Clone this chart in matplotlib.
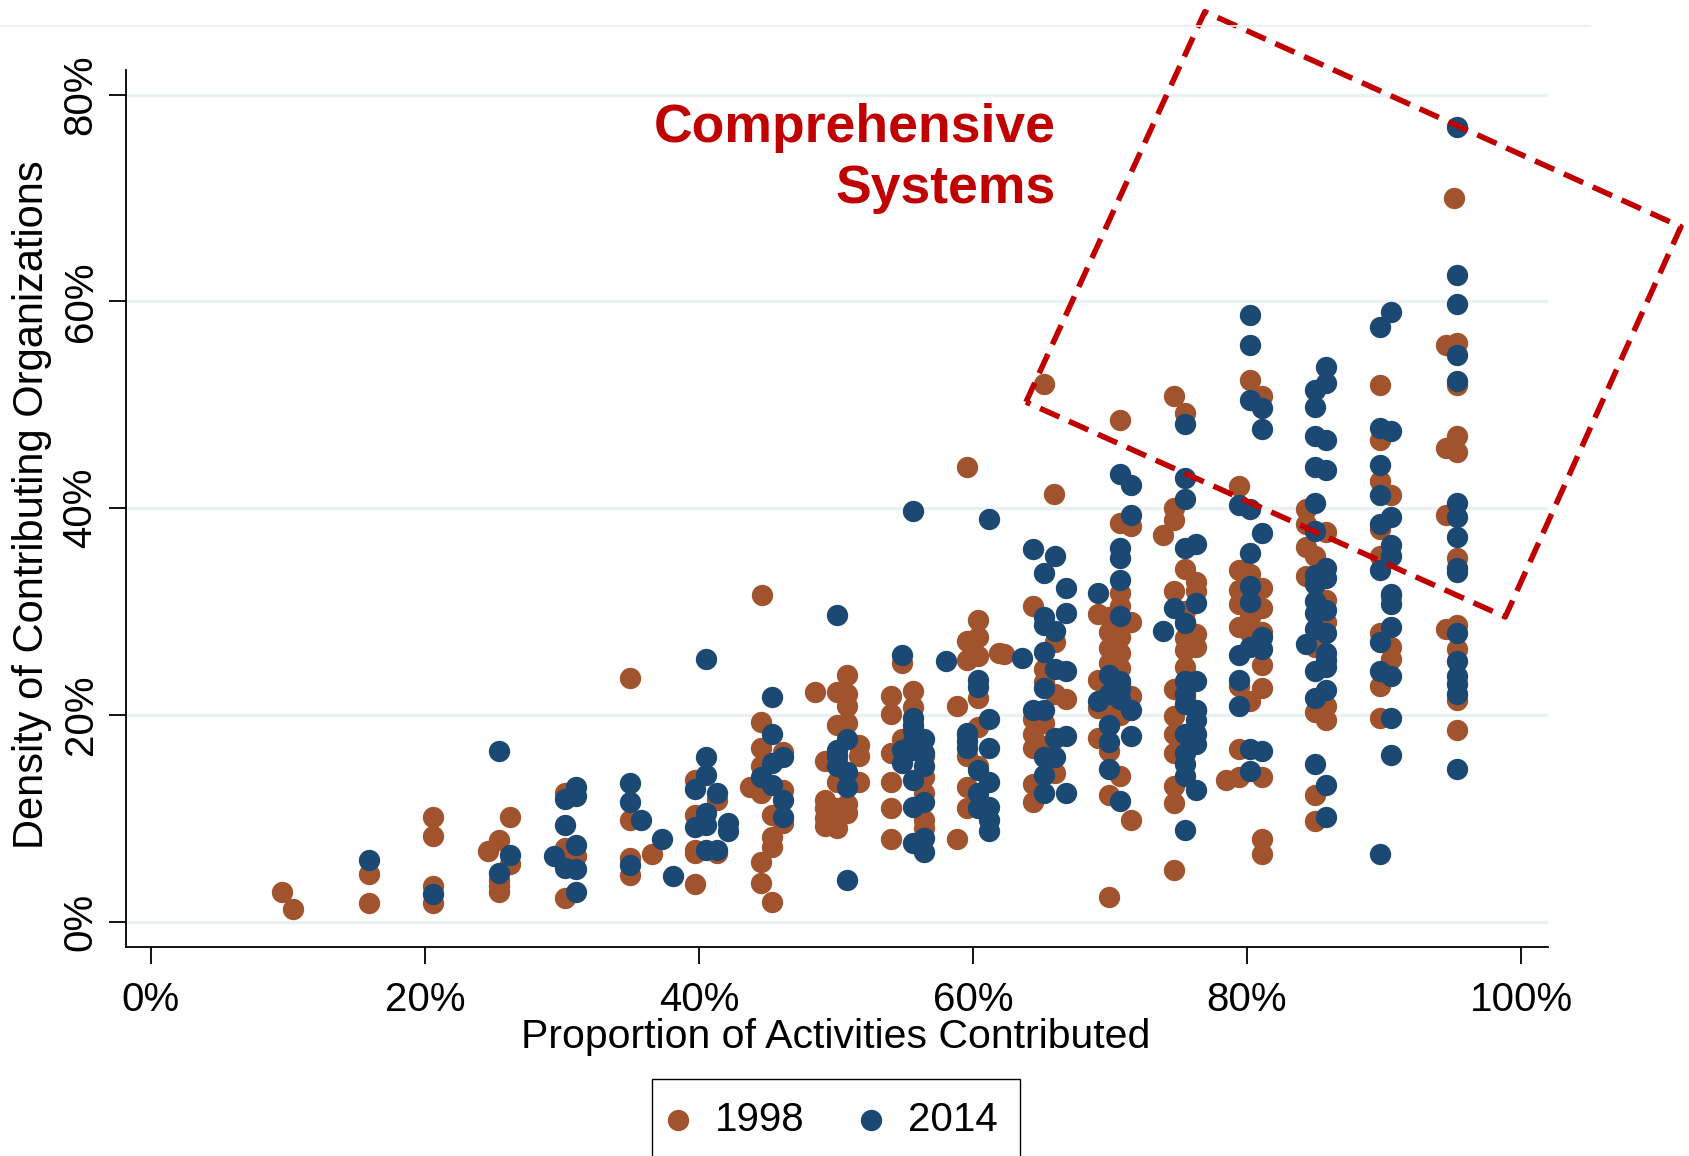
import matplotlib
matplotlib.use("Agg")
import matplotlib.pyplot as plt
from matplotlib.lines import Line2D

plt.rcParams['font.family'] = ['Liberation Sans', 'DejaVu Sans']

# ---------------- data (percent) ----------------
x_1998 = [9.6, 10.4,
          15.9, 15.9,
          20.6, 20.6, 20.6, 20.6,
          24.6, 25.4, 25.4, 25.4, 25.4, 26.2, 26.2,
          30.2, 30.2, 30.2, 30.2, 31.0,
          35.0, 35.0, 35.0, 35.0, 36.6,
          39.7, 39.7, 39.7, 39.7, 39.7, 41.3, 41.3,
          44.6, 44.5, 44.5, 46.1, 44.5, 43.7, 46.1, 44.5, 45.3, 46.1, 45.3, 45.3, 44.5, 44.5, 45.3,
          48.5, 50.8, 50.1, 50.8, 50.8, 50.1, 50.8, 51.7, 51.7, 49.2, 50.1, 51.7, 49.2, 50.8, 50.1,
          49.2, 50.8, 49.2, 50.1, 50.1, 49.2, 50.1,
          54.0, 55.6, 54.0, 54.8, 55.6, 54.8, 54.0, 54.0, 56.4, 54.0, 56.4, 54.0, 56.4, 56.4, 56.4, 55.6,
          59.6, 60.4, 59.6, 60.4, 59.6, 60.4, 61.9, 60.4, 58.8, 60.4, 59.6, 59.6, 59.6, 58.8, 60.4, 59.6,
          65.2, 65.9, 64.4, 62.3, 65.2, 66.8, 65.2, 64.4, 64.4, 65.2, 64.4, 66.0, 64.4, 64.4, 66.0, 66.0, 65.2,
          70.7, 70.7, 71.5, 69.1, 70.7, 71.5,
          69.9, 69.9, 69.9, 69.9, 69.9, 69.9, 69.9, 69.9,
          70.7, 70.7, 70.7, 70.7, 70.7, 70.7, 70.7,
          69.1, 69.1, 71.5, 69.1, 69.9, 70.7, 69.9, 71.5, 69.9,
          74.7, 75.5, 74.7, 74.7, 73.9, 75.5, 76.3, 74.7, 76.3, 75.5, 76.3, 75.5, 76.3, 75.5,
          74.7, 74.7, 74.7, 74.7, 74.7, 74.7, 75.5, 75.5, 76.3, 74.7, 75.5,
          80.2, 81.1, 79.4, 79.4, 80.2, 81.1, 79.4, 79.4, 81.1, 79.4, 80.2, 81.1, 79.4, 81.1, 80.2,
          79.4, 79.4, 81.1, 81.1, 81.1, 78.5, 80.2, 81.1,
          84.3, 84.3, 85.8, 84.3, 85.0, 84.3, 85.8, 85.0, 85.0, 85.8, 85.8, 85.0, 85.0, 85.8,
          89.7, 89.7, 89.7, 90.5, 89.7, 89.7, 90.5, 89.7, 90.5, 90.5, 89.7, 89.7,
          95.1, 94.5, 95.3, 95.3, 95.3, 94.5, 95.3, 94.5, 95.3, 94.5, 95.3, 95.3, 95.3, 95.3]
y_1998 = [2.9, 1.2,
          4.6, 1.8,
          10.1, 8.3, 3.4, 1.8,
          6.8, 7.9, 4.0, 3.4, 2.9, 10.1, 5.6,
          12.4, 7.1, 6.1, 2.3, 6.3,
          23.6, 9.8, 6.1, 4.5, 6.5,
          13.7, 10.3, 6.9, 6.6, 3.6, 11.8, 6.6,
          31.6, 19.3, 16.8, 16.4, 15.0, 13.0, 12.7, 12.4, 10.3, 9.5, 8.2, 7.2, 5.8, 3.7, 1.9,
          22.2, 23.9, 22.2, 22.0, 20.9, 19.0, 19.2, 17.1, 16.0, 15.5, 13.5, 13.5, 11.8, 11.4, 11.0,
          10.0, 10.5, 9.2, 9.0, 15.5, 11.0, 10.2,
          21.8, 22.3, 20.1, 25.0, 20.8, 17.7, 16.3, 13.5, 12.4, 11.0, 9.8, 7.95, 9.0, 16.0, 14.0, 18.0,
          44.0, 29.2, 27.1, 27.5, 25.3, 25.7, 25.95, 21.6, 20.9, 18.8, 16.0, 13.0, 11.0, 7.95, 15.0, 18.0,
          52.0, 41.4, 30.5, 25.9, 24.4, 21.5, 23.2, 19.6, 18.1, 19.2, 16.8, 14.4, 13.3, 11.6, 27.0, 22.0, 17.0,
          48.5, 38.6, 38.3, 29.8, 31.8, 29.0,
          29.5, 28.0, 26.5, 25.0, 23.5, 22.0, 20.5, 19.0,
          30.5, 27.5, 26.0, 24.5, 23.0, 21.5, 20.0,
          23.4, 20.7, 21.8, 17.8, 16.5, 14.1, 12.2, 9.8, 2.4,
          50.9, 49.2, 40.0, 38.9, 37.4, 34.1, 32.9, 32.0, 32.0, 27.4, 27.8, 26.3, 26.6, 24.6,
          19.9, 18.1, 16.3, 13.1, 11.5, 5.0, 21.7, 30.0, 20.5, 22.5, 29.0,
          52.4, 50.9, 42.1, 34.0, 33.6, 32.3, 32.1, 30.7, 30.3, 28.5, 27.9, 24.8, 22.8, 22.6, 21.3,
          16.7, 14.0, 14.0, 8.0, 6.5, 13.7, 29.5, 28.0,
          39.9, 38.5, 37.7, 36.2, 35.4, 33.4, 31.1, 26.6, 20.3, 19.5, 20.9, 12.2, 9.75, 29.0,
          51.9, 46.6, 42.6, 41.3, 38.0, 35.4, 31.5, 27.9, 26.6, 25.4, 22.8, 19.7,
          70.0, 55.8, 56.0, 51.9, 47.0, 45.8, 45.4, 39.3, 35.2, 28.3, 28.7, 26.4, 21.4, 18.5]

x_2014 = [15.9, 20.6, 25.4, 25.4, 26.2,
          29.4, 30.2, 30.2, 30.2, 31.0, 31.0, 31.0, 31.0, 31.0,
          35.0, 35.0, 35.0, 35.75, 37.3, 38.1,
          40.5, 40.5, 40.5, 39.7, 41.3, 40.5, 39.7, 40.5, 42.1, 42.1, 40.5, 41.3,
          45.3, 45.3, 46.1, 45.3, 44.5, 45.3, 46.1, 46.1,
          50.1, 50.8, 50.1, 50.1, 50.1, 50.8, 50.8, 50.8,
          55.6, 54.8, 55.6, 55.6, 56.4, 55.6, 54.8, 56.4, 54.8, 56.4, 55.6, 55.6, 56.4, 55.6, 56.4, 56.4, 55.6, 55.6,
          61.2, 58.0, 60.4, 60.4, 61.2, 59.6, 59.6, 61.2, 60.4, 61.2, 60.4, 60.4, 61.2, 61.2, 61.2, 59.6,
          64.4, 66.0, 65.2, 66.8, 65.2, 66.8, 65.2, 66.0, 65.2, 63.6, 66.0, 66.8, 65.2, 64.4, 65.2,
          66.0, 66.8, 65.2, 66.0, 65.2, 65.2, 66.8,
          70.7, 71.5, 71.5, 70.7, 70.7, 70.7, 69.1, 70.7, 69.9, 70.7, 69.1, 70.7, 71.5, 69.9,
          69.9, 71.5, 69.9, 70.7, 70.7, 69.9,
          75.5, 75.5, 75.5, 75.5, 76.3, 76.3, 74.7, 75.5, 73.9, 75.5, 76.3, 75.5, 76.3, 75.5,
          76.3, 76.3, 75.5, 75.5, 75.5, 76.3, 75.5, 75.5, 76.3,
          80.2, 80.2, 80.2, 81.1, 81.1, 79.4, 80.2, 81.1, 80.2, 80.2, 80.2, 81.1, 81.1, 80.2,
          79.4, 79.4, 79.4, 80.2, 81.1, 80.2,
          85.8, 85.8, 85.0, 85.0, 85.0, 85.8, 85.0, 85.8, 85.0, 85.0, 85.8, 85.0, 85.8, 85.0,
          85.8, 85.0, 85.8, 84.3, 85.8, 85.8, 85.0, 85.8, 85.0, 85.0, 85.8, 85.8, 85.0, 85.8, 85.0,
          90.5, 89.7, 89.7, 90.5, 89.7, 89.7, 89.7, 90.5, 90.5, 90.5, 89.7, 90.5, 90.5, 90.5,
          89.7, 89.7, 90.5, 90.5, 90.5, 89.7,
          95.3, 95.3, 95.3, 95.3, 95.3, 95.3, 95.3, 95.3, 95.3, 95.3, 95.3, 95.3, 95.3, 95.3,
          95.3, 95.3]
y_2014 = [5.95, 2.7, 16.5, 4.7, 6.4,
          6.3, 11.9, 9.3, 5.2, 13.0, 12.1, 7.4, 5.1, 2.9,
          13.4, 11.6, 5.5, 9.8, 7.95, 4.4,
          25.4, 15.9, 14.2, 12.8, 12.4, 10.5, 9.1, 9.3, 9.5, 8.8, 6.9, 6.9,
          21.7, 18.1, 15.9, 15.3, 14.0, 13.2, 11.8, 10.1,
          29.7, 17.7, 16.6, 16.0, 15.0, 14.5, 13.0, 4.0,
          39.75, 25.8, 19.7, 18.5, 17.7, 16.6, 16.6, 16.3, 15.3, 15.0, 13.7, 11.1, 11.6, 7.6, 8.1, 6.75, 19.0, 17.5,
          38.95, 25.2, 23.4, 22.7, 19.6, 18.2, 16.8, 16.8, 14.7, 13.5, 12.4, 11.0, 11.1, 9.8, 8.8, 17.5,
          36.0, 35.4, 33.75, 32.3, 29.5, 29.9, 28.7, 28.1, 26.1, 25.5, 24.4, 24.2, 22.6, 20.5, 20.5,
          17.8, 17.95, 15.9, 15.9, 14.2, 12.4, 12.4,
          43.3, 42.2, 39.3, 36.1, 35.2, 33.0, 31.8, 29.6, 23.9, 23.3, 21.3, 21.5, 20.5, 19.05,
          17.4, 17.95, 14.8, 11.7, 22.5, 22.0,
          48.1, 42.9, 40.9, 36.1, 36.5, 30.8, 30.3, 28.9, 28.1, 23.3, 23.3, 21.0, 20.5, 18.1,
          18.1, 17.2, 16.3, 15.2, 14.1, 12.75, 8.9, 22.0, 19.5,
          58.7, 55.8, 50.5, 49.7, 47.7, 40.3, 39.9, 37.6, 35.7, 32.5, 30.9, 27.5, 26.4, 26.6,
          25.8, 23.4, 20.9, 16.7, 16.5, 14.6,
          53.7, 52.1, 51.4, 49.8, 47.0, 46.6, 43.96, 43.7, 40.5, 37.8, 34.2, 32.7, 33.2, 29.9,
          30.1, 28.3, 27.9, 26.9, 26.0, 24.6, 24.2, 22.4, 21.6, 15.2, 13.2, 10.1, 33.5, 25.3, 31.0,
          59.0, 57.5, 47.8, 47.5, 44.2, 41.3, 38.5, 39.1, 36.4, 35.4, 34.0, 31.7, 30.7, 28.5,
          27.0, 24.2, 23.8, 19.7, 16.1, 6.5,
          76.9, 62.6, 59.8, 54.8, 52.3, 40.5, 39.1, 37.2, 34.2, 33.8, 27.9, 25.2, 23.8, 23.0,
          22.0, 14.8]

series_labels = ['1998', '2014']
x_ticks = [0, 20, 40, 60, 80, 100]
x_tick_labels = ['0%', '20%', '40%', '60%', '80%', '100%']
y_ticks = [0, 20, 40, 60, 80]
y_tick_labels = ['0%', '20%', '40%', '60%', '80%']
x_label = 'Proportion of Activities Contributed'
y_label = 'Density of Contributing Organizations'
annotation_lines = ['Comprehensive', 'Systems']
box_x = [63.87, 76.92, 111.67, 98.85, 63.87]
box_y = [50.27, 88.04, 67.23, 29.47, 50.27]

# ---------------- styling ----------------
W, H = 1690, 1156
C98 = '#A0532D'
C14 = '#1B4973'
RED = '#C00000'
GRID = '#E9F1F2'

fig = plt.figure(figsize=(W / 100, H / 100), dpi=100)
ax = fig.add_axes([126 / W, 1 - 947.4 / H, 1422 / W, 877.4 / H])

ax.set_xlim(-1.82, 101.97)
ax.set_ylim(-2.506, 82.40)

ax.scatter(x_1998, y_1998, s=236, color=C98, linewidths=0, zorder=3, label=series_labels[0])
ax.scatter(x_2014, y_2014, s=236, color=C14, linewidths=0, zorder=4, label=series_labels[1])

ax.set_axisbelow(True)
ax.yaxis.grid(True, color=GRID, linewidth=2.4)
ax.xaxis.grid(False)

for side in ['top', 'right']:
    ax.spines[side].set_visible(False)
for side in ['left', 'bottom']:
    ax.spines[side].set_linewidth(1.3)
    ax.spines[side].set_color('black')

ax.set_xticks(x_ticks)
ax.set_xticklabels(x_tick_labels, fontsize=29)
ax.set_yticks(y_ticks)
ax.set_yticklabels(y_tick_labels, fontsize=29, rotation=90, va='center')
ax.tick_params(axis='both', direction='out', length=12, width=1.3, color='black')
ax.tick_params(axis='x', pad=12.5)
ax.tick_params(axis='y', pad=7)

ax.set_xlabel(x_label, fontsize=29.5, va='baseline', ha='center')
ax.xaxis.set_label_coords(0.4993, -0.115)
ax.set_ylabel(y_label, fontsize=30, va='baseline', ha='center')
ax.yaxis.set_label_coords(-0.0582, 0.5049)

# annotation box and label
ax.plot(box_x, box_y, color=RED, linewidth=4.0, linestyle=(0, (3.8, 1.9)),
        dash_capstyle='butt', solid_joinstyle='miter', clip_on=False, zorder=5)
ax.text(66.06, 75.46, annotation_lines[0], ha='right', va='baseline', fontsize=38.5,
        fontweight='bold', color=RED, zorder=6)
ax.text(66.06, 69.5, annotation_lines[1], ha='right', va='baseline', fontsize=38.5,
        fontweight='bold', color=RED, zorder=6)

# faint outer line at top of graph region
fig.add_artist(Line2D([0, 1590 / W], [1 - 26 / H, 1 - 26 / H], transform=fig.transFigure,
                      color='#EDEDED', linewidth=1.2))

leg = fig.legend(loc='upper left', bbox_to_anchor=(651.7 / W, 1 - 1079 / H), ncol=2,
                 fontsize=29, frameon=True, fancybox=False, shadow=False,
                 borderpad=0.54, handlelength=0.21, handletextpad=0.82,
                 columnspacing=1.55, borderaxespad=0, scatterpoints=1, markerscale=1)
leg.get_frame().set_edgecolor('black')
leg.get_frame().set_linewidth(1.0)
leg.get_frame().set_facecolor('white')
leg.get_frame().set_alpha(1)

fig.savefig('out.png', dpi=100, facecolor='white')
